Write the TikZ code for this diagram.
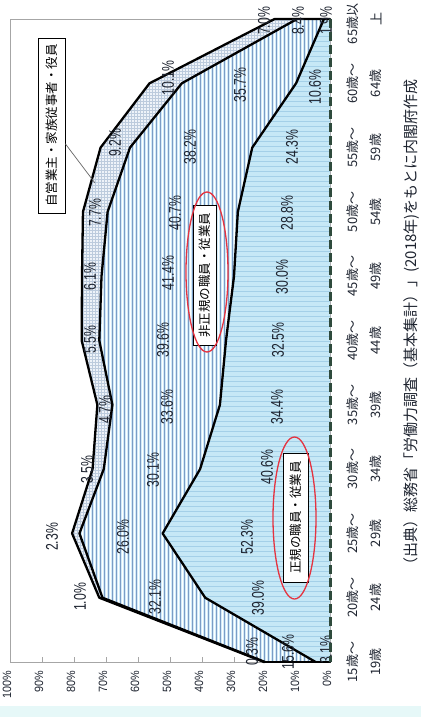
\documentclass[tikz,border=0pt]{standalone}
\usepackage{fontspec}
\setmainfont{Liberation Sans}
\newfontfamily\jpfont{Noto Sans CJK JP}
\definecolor{regfill}{HTML}{C6E8F6}
\definecolor{regline}{HTML}{A4D0E8}
\definecolor{nrfill}{HTML}{D2ECF8}
\definecolor{nrline}{HTML}{7C9CC6}
\definecolor{sefill}{HTML}{EEF3F9}
\definecolor{seline}{HTML}{BCCBDD}
\definecolor{axisdark}{HTML}{2E4A3C}
\definecolor{ellred}{HTML}{E53340}
\definecolor{bgcyan}{HTML}{E6F8F8}
\definecolor{txt}{HTML}{1E2430}
\newcommand{\dlx}[1]{\scalebox{0.72}[1]{#1}}
\newcommand{\tlx}[1]{\scalebox{0.9}[1]{#1}}
\begin{document}
\begin{tikzpicture}[x=1pt,y=-1pt,
  dlab/.style={rotate=90, inner sep=0pt, text=txt, font=\fontsize{17}{17}\selectfont},
  tlab/.style={rotate=90, inner sep=0pt, anchor=east, text=txt, font=\fontsize{12}{12}\selectfont},
  agelab/.style={rotate=90, inner sep=0pt, text=txt, font=\jpfont\fontsize{13}{13}\selectfont},
  catbox/.style={rotate=90, draw=black, line width=0.8pt, fill=white, inner sep=0pt, font=\jpfont\fontsize{12.5}{12.5}\selectfont, text=black},
  serline/.style={line width=2.3pt, black, line join=round, line cap=round},
  ellmark/.style={draw=ellred, line width=1.3pt},
]
\useasboundingbox (0,0) rectangle (421,717);
\fill[white] (0,0) rectangle (421,717);
\fill[bgcyan] (0,706) rectangle (421,717);

% data coordinates
\foreach \i/\p in {0/4.5,1/39.0,2/52.3,3/40.6,4/34.4,5/32.5,6/30.0,7/28.8,8/24.3,9/10.6,10/1.9}
  \coordinate (a\i) at ({330-3.2*\p},{662-64.3*\i});
\foreach \i/\p in {0/20.3,1/71.1,2/78.3,3/70.7,4/68.0,5/72.1,6/71.4,7/69.5,8/62.5,9/46.3,10/10.3}
  \coordinate (b\i) at ({330-3.2*\p},{662-64.3*\i});
\foreach \i/\p in {0/20.6,1/72.1,2/80.6,3/74.2,4/72.7,5/77.6,6/77.5,7/77.2,8/71.7,9/56.4,10/17.3}
  \coordinate (c\i) at ({330-3.2*\p},{662-64.3*\i});
\coordinate (zb) at (330,662);
\coordinate (zt) at (330,19);

% frame
\draw[gray!70, line width=0.8pt] (10,19) rectangle (330,662);
\foreach \k in {0,...,10} \draw[gray!70, line width=0.8pt] ({10+32*\k},662) -- ({10+32*\k},657);

% regular employees area
\begin{scope}
\clip (zb) -- (a0) -- (a1) -- (a2) -- (a3) -- (a4) -- (a5) -- (a6) -- (a7) -- (a8) -- (a9) -- (a10) -- (zt) -- cycle;
\fill[regfill] (0,0) rectangle (421,717);
\foreach \y in {21,26,...,661} \draw[regline, line width=0.7pt] (10,\y) -- (330,\y);
\end{scope}

% non-regular area
\begin{scope}
\clip (a0) -- (a1) -- (a2) -- (a3) -- (a4) -- (a5) -- (a6) -- (a7) -- (a8) -- (a9) -- (a10) -- (b10) -- (b9) -- (b8) -- (b7) -- (b6) -- (b5) -- (b4) -- (b3) -- (b2) -- (b1) -- (b0) -- cycle;
\fill[nrfill] (0,0) rectangle (421,717);
\foreach \x in {12,16,...,330} {
  \draw[nrline, line width=1pt] (\x,19) -- (\x,662);
  \draw[white, line width=0.8pt] (\x+2,19) -- (\x+2,662);
}
\end{scope}

% self-employed area
\begin{scope}
\clip (b0) -- (b1) -- (b2) -- (b3) -- (b4) -- (b5) -- (b6) -- (b7) -- (b8) -- (b9) -- (b10) -- (c10) -- (c9) -- (c8) -- (c7) -- (c6) -- (c5) -- (c4) -- (c3) -- (c2) -- (c1) -- (c0) -- cycle;
\fill[sefill] (0,0) rectangle (421,717);
\foreach \x in {11,14,...,330} \draw[seline, line width=0.6pt] (\x,19) -- (\x,662);
\foreach \y in {20,23,...,662} \draw[seline, line width=0.6pt] (10,\y) -- (330,\y);
\end{scope}

% series borders
\draw[serline] (a0) -- (a1) -- (a2) -- (a3) -- (a4) -- (a5) -- (a6) -- (a7) -- (a8) -- (a9) -- (a10);
\draw[serline] (b0) -- (b1) -- (b2) -- (b3) -- (b4) -- (b5) -- (b6) -- (b7) -- (b8) -- (b9) -- (b10);
\draw[serline] (c0) -- (c1) -- (c2) -- (c3) -- (c4) -- (c5) -- (c6) -- (c7) -- (c8) -- (c9) -- (c10);
\draw[serline] (c10) -- (zt);
\draw[serline] (c0) -- (zb);

% data labels: self-employed
\foreach \n/\x/\y/\t in {s0/252/652/0.3\%, s1/80/597/1.0\%, s2/52/537/2.3\%, s3/87/470/3.5\%,
  s4/105/410/4.7\%, s5/90/340/5.5\%, s6/90/277/6.1\%, s7/95/213/7.7\%, s8/115/143/9.2\%,
  s9/168/78/10.1\%, s10/264/21/7.0\%}
  \node[dlab] (\n) at (\x,\y) {\dlx{\t}};
% data labels: non-regular
\foreach \n/\x/\y/\t in {n0/288/652/15.6\%, n1/155/597/32.1\%, n2/123/537/26.0\%, n3/153/470/30.1\%,
  n4/167/407/33.6\%, n5/163/340/39.6\%, n6/168/273/41.4\%, n7/175/213/40.7\%, n8/190/147/38.2\%,
  n9/240/85/35.7\%, n10/298/21/8.4\%}
  \node[dlab] (\n) at (\x,\y) {\dlx{\t}};
% data labels: regular
\foreach \n/\x/\y/\t in {r0/326/650/3.1\%, r1/258/598/39.0\%, r2/247/537/52.3\%, r3/267/467/40.6\%,
  r4/277/407/34.4\%, r5/278/340/32.5\%, r6/282/277/30.0\%, r7/287/213/28.8\%, r8/292/147/24.3\%,
  r9/315/87/10.6\%, r10/326/21/1.9\%}
  \node[dlab] (\n) at (\x,\y) {\dlx{\t}};

% 0% axis (dashed)
\draw[axisdark, line width=3pt, dash pattern=on 9pt off 4pt] (zt) -- (zb);

% percent tick labels
\foreach \k in {0,...,10} {
  \pgfmathtruncatemacro{\pv}{100-10*\k}
  \node[tlab] (t\k) at ({7+32*\k},671) {\tlx{\pv\%}};
}

% age category labels
\foreach \i/\ta/\tb in {0/15歳～/19歳, 1/20歳～/24歳, 2/25歳～/29歳, 3/30歳～/34歳, 4/35歳～/39歳,
  5/40歳～/44歳, 6/45歳～/49歳, 7/50歳～/54歳, 8/55歳～/59歳, 9/60歳～/64歳} {
  \node[agelab] (ga\i) at (353,{662-64.3*\i}) {\ta};
  \node[agelab] (gb\i) at (376,{662-64.3*\i}) {\tb};
}
\node[agelab] (ga10) at (353,24) {65歳以};
\node[agelab] (gb10) at (376,19) {上};

% legend / category boxes
\node[catbox, minimum width=175pt, minimum height=27pt] (selegend) at (51.5,125.5) {自営業主・家族従事者・役員};
\coordinate (selead) at (95,183);
\draw[gray!80!black, line width=0.7pt] (selegend) -- (selead);

\node[catbox, minimum width=140pt, minimum height=23pt] (nrlegend) at (204.5,275) {非正規の職員・従業員};
\draw[ellmark] (207,272) ellipse [x radius=21pt, y radius=80pt];

\node[catbox, minimum width=129pt, minimum height=25pt] (rglegend) at (295.5,517.5) {正規の職員・従業員};
\draw[ellmark] (294.5,518) ellipse [x radius=21.5pt, y radius=81pt];

% source
\node[rotate=90, inner sep=0pt, text=txt, font=\jpfont\fontsize{15}{15}\selectfont] (src) at (412,326)
  {（出典）総務省「労働力調査（基本集計）」(2018年)をもとに内閣府作成};
\end{tikzpicture}
\end{document}
